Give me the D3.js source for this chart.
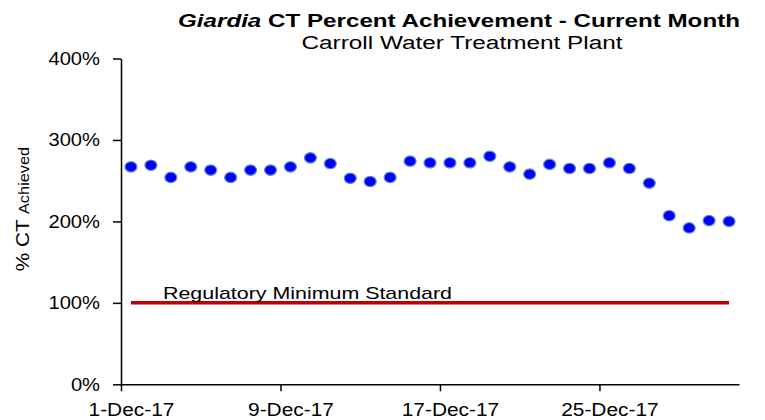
<!DOCTYPE html>
<html>
<head>
<meta charset="utf-8">
<script src="https://cdn.jsdelivr.net/npm/d3@7"></script>
<style>
  body { margin: 0; background: #fff; }
  svg { font-family: "Liberation Sans", Arial, sans-serif; }
</style>
</head>
<body>
<div id="chart"></div>
<script>
// daily readings, December 2017
var days = [
  "2017-12-01", "2017-12-02", "2017-12-03", "2017-12-04", "2017-12-05",
  "2017-12-06", "2017-12-07", "2017-12-08", "2017-12-09", "2017-12-10",
  "2017-12-11", "2017-12-12", "2017-12-13", "2017-12-14", "2017-12-15",
  "2017-12-16", "2017-12-17", "2017-12-18", "2017-12-19", "2017-12-20",
  "2017-12-21", "2017-12-22", "2017-12-23", "2017-12-24", "2017-12-25",
  "2017-12-26", "2017-12-27", "2017-12-28", "2017-12-29", "2017-12-30",
  "2017-12-31"
];
var ctAchieved = [
  267, 269, 254, 267, 263, 254, 263, 263, 267, 278,
  271, 253, 249, 254, 274, 272, 272, 272, 280, 267,
  258, 270, 265, 265, 272, 265, 247, 207, 192, 201,
  200
];
var regulatoryMin = 100;
var yTicks = [0, 100, 200, 300, 400];
var xTickDays = ["2017-12-01", "2017-12-09", "2017-12-17", "2017-12-25"];

var W = 765, H = 420;
var parse = d3.timeParse("%Y-%m-%d");
var data = days.map(function(d, i) {
  return { date: parse(d), value: ctAchieved[i] };
});

// the original text is drawn a little wider than Arial
function stretch(sel, k) {
  sel.each(function() {
    var w = this.getComputedTextLength();
    d3.select(this)
      .attr("textLength", w * k)
      .attr("lengthAdjust", "spacingAndGlyphs");
  });
}

var svg = d3.select("#chart")
  .append("svg")
  .attr("width", W)
  .attr("height", H);

var x = d3.scaleTime()
  .domain([parse("2017-12-01"), parse("2018-01-01")])
  .range([121, 739]);

var y = d3.scaleLinear()
  .domain([0, 400])
  .range([384.3, 58.5]);

// points sit in the middle of each day
function xMid(d) {
  return x(d3.timeHour.offset(d, 12));
}

// title
var title = svg.append("text")
  .attr("x", 459)
  .attr("y", 27)
  .attr("text-anchor", "middle")
  .style("font-size", "18px")
  .style("font-weight", "bold");
title.append("tspan").style("font-style", "italic").text("Giardia");
title.append("tspan").text(" CT Percent Achievement  - Current Month");
title.attr("textLength", 562).attr("lengthAdjust", "spacingAndGlyphs");

svg.append("text")
  .attr("x", 462)
  .attr("y", 49)
  .attr("text-anchor", "middle")
  .style("font-size", "18px")
  .attr("textLength", 321)
  .attr("lengthAdjust", "spacingAndGlyphs")
  .text("Carroll Water Treatment Plant");

// y axis label
var ylab = svg.append("text")
  .attr("transform", "translate(29," + 209 + ") rotate(-90)")
  .attr("text-anchor", "middle");
ylab.append("tspan").style("font-size", "19px").text("% CT ");
ylab.append("tspan").style("font-size", "15px").text("Achieved");
stretch(ylab, 1.09);

// axes
svg.append("g")
  .attr("class", "yaxis")
  .attr("transform", "translate(121,0)")
  .call(d3.axisLeft(y)
    .tickValues(yTicks)
    .tickSize(8)
    .tickSizeOuter(0)
    .tickPadding(13)
    .tickFormat(function(d) { return d + "%"; }));

svg.append("g")
  .attr("class", "xaxis")
  .attr("transform", "translate(0," + y(0) + ")")
  .call(d3.axisBottom(x)
    .tickValues(xTickDays.map(parse))
    .tickSize(7)
    .tickSizeOuter(0)
    .tickPadding(12)
    .tickFormat(d3.timeFormat("%-d-%b-%y")));

// labels are centred on the day, not on the tick
svg.selectAll(".xaxis .tick text")
  .attr("x", function(d) { return xMid(d) - x(d); });

svg.selectAll(".tick text")
  .style("font-size", "18px")
  .attr("fill", "#000")
  .style("font-family", "'Liberation Sans', Arial, sans-serif");
stretch(svg.selectAll(".xaxis .tick text"), 1.16);
stretch(svg.selectAll(".yaxis .tick text"), 1.12);

svg.selectAll(".domain, .tick line")
  .attr("stroke", "#000")
  .attr("stroke-width", 1.5);

// regulatory minimum line
svg.append("line")
  .attr("x1", xMid(data[0].date))
  .attr("x2", xMid(data[data.length - 1].date))
  .attr("y1", y(regulatoryMin))
  .attr("y2", y(regulatoryMin))
  .attr("stroke", "#c00000")
  .attr("stroke-width", 3.5);

svg.append("text")
  .attr("x", 163)
  .attr("y", y(regulatoryMin) - 4)
  .style("font-size", "17px")
  .attr("textLength", 289)
  .attr("lengthAdjust", "spacingAndGlyphs")
  .text("Regulatory  Minimum  Standard");

// daily points
svg.selectAll(".pt")
  .data(data)
  .enter()
  .append("ellipse")
  .attr("class", "pt")
  .attr("cx", function(d) { return xMid(d.date); })
  .attr("cy", function(d) { return y(d.value); })
  .attr("rx", 6)
  .attr("ry", 5.2)
  .attr("fill", "#0000ff")
  .attr("stroke", "#5b8fd0")
  .attr("stroke-width", 1.2);
</script>
</body>
</html>
